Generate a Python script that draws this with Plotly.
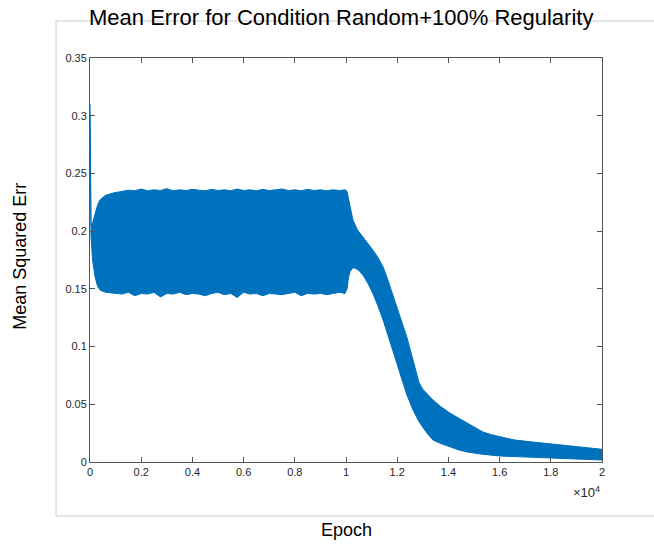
import plotly.graph_objects as go

# Upper envelope of the oscillating mean squared error
upper_epoch = [0, 40, 100, 200, 300, 390, 600, 900, 1250, 1500, 1750, 2000, 2250, 2500, 2750,
               3000, 3250, 3500, 3750, 4000, 4250, 4500, 4750, 5000, 5250, 5500, 5750, 6000,
               6250, 6500, 6750, 7000, 7250, 7500, 7750, 8000, 8250, 8500, 8750, 9000, 9250,
               9500, 9750, 9960,
               10040, 10100, 10180, 10270, 10450, 10660, 10850, 11050, 11250, 11450, 11600,
               11720, 11850, 11990, 12200, 12380, 12550, 12700, 12850, 13000, 13160, 13400,
               13700, 14060, 14400, 14730, 15000, 15350, 15700, 16020, 16600, 17300, 18000,
               18630, 19300, 20000]
upper_mse = [0.31, 0.205, 0.207, 0.216, 0.223, 0.227, 0.231, 0.233, 0.2345, 0.2355, 0.235,
             0.2365, 0.235, 0.2358, 0.2352, 0.2368, 0.235, 0.2358, 0.2352, 0.2362, 0.2355,
             0.235, 0.2362, 0.2352, 0.2358, 0.235, 0.2365, 0.2352, 0.2358, 0.235, 0.2362,
             0.2352, 0.2358, 0.2365, 0.2352, 0.2358, 0.235, 0.2362, 0.2352, 0.2358, 0.235,
             0.2358, 0.2352, 0.2358,
             0.2345, 0.228, 0.218, 0.2096, 0.201, 0.195, 0.190, 0.1836, 0.177, 0.169, 0.160,
             0.1516, 0.143, 0.134, 0.120, 0.108, 0.093, 0.080, 0.069, 0.063, 0.059, 0.0537,
             0.048, 0.0424, 0.038, 0.0338, 0.030, 0.026, 0.0235, 0.0217, 0.019, 0.0173,
             0.0155, 0.0139, 0.0125, 0.011]

# Lower envelope
lower_epoch = [0, 40, 100, 200, 300, 390, 600, 900, 1250, 1500, 1750, 2000, 2250, 2500, 2750,
               3000, 3250, 3500, 3750, 4000, 4250, 4500, 4750, 5000, 5250, 5500, 5750, 6000,
               6250, 6500, 6750, 7000, 7250, 7500, 7750, 8000, 8250, 8500, 8750, 9000, 9250,
               9500, 9750, 9960,
               10040, 10100, 10160, 10250, 10350, 10500, 10660, 10850, 11050, 11250, 11450,
               11600, 11720, 11900, 12110, 12250, 12380, 12500, 12620, 12800, 13000, 13200,
               13400, 13700, 14060, 14400, 14730, 15300, 16020, 17000, 17960, 19000, 20000]
lower_mse = [0.30, 0.195, 0.175, 0.16, 0.152, 0.149, 0.147, 0.146, 0.1455, 0.147, 0.144,
             0.146, 0.1455, 0.147, 0.143, 0.146, 0.1455, 0.147, 0.145, 0.146, 0.1455, 0.144,
             0.146, 0.147, 0.145, 0.146, 0.1425, 0.147, 0.1455, 0.146, 0.144, 0.146, 0.1455,
             0.145, 0.146, 0.147, 0.144, 0.146, 0.1455, 0.146, 0.145, 0.146, 0.147, 0.146,
             0.150, 0.160, 0.165, 0.168, 0.168, 0.166, 0.162, 0.155, 0.146, 0.135, 0.123,
             0.113, 0.103, 0.090, 0.077, 0.067, 0.058, 0.051, 0.045, 0.037, 0.030, 0.024,
             0.019, 0.016, 0.013, 0.0105, 0.0087, 0.0068, 0.0052, 0.0042, 0.0035, 0.0025,
             0.0017]

x_tickvals = [0, 2000, 4000, 6000, 8000, 10000, 12000, 14000, 16000, 18000, 20000]
x_ticktext = ["0", "0.2", "0.4", "0.6", "0.8", "1", "1.2", "1.4", "1.6", "1.8", "2"]
y_tickvals = [0, 0.05, 0.1, 0.15, 0.2, 0.25, 0.3, 0.35]
y_ticktext = ["0", "0.05", "0.1", "0.15", "0.2", "0.25", "0.3", "0.35"]

BLUE = "#0072BD"
AX = "#555555"
TXT = "#262626"
FONT = "Liberation Sans, Arial, Helvetica, sans-serif"

poly_x = upper_epoch + lower_epoch[::-1]
poly_y = upper_mse + lower_mse[::-1]

fig = go.Figure()
fig.add_trace(go.Scatter(x=poly_x, y=poly_y, mode="lines", fill="toself",
                         fillcolor=BLUE, line=dict(color=BLUE, width=1),
                         hoverinfo="skip", showlegend=False))

fig.update_layout(
    width=654, height=544,
    margin=dict(l=90, r=52, t=58, b=82),
    paper_bgcolor="white", plot_bgcolor="white",
    font=dict(family=FONT, color=TXT, size=11),
    showlegend=False,
    xaxis=dict(range=[0, 20000], tickvals=x_tickvals, ticktext=x_ticktext,
               showgrid=False, zeroline=False, showline=True, linecolor=AX, linewidth=1,
               mirror="ticks", ticks="inside", ticklen=5, tickcolor=AX,
               tickfont=dict(size=11, color=TXT, family=FONT)),
    yaxis=dict(range=[0, 0.35], tickvals=y_tickvals, ticktext=y_ticktext,
               showgrid=False, zeroline=False, showline=True, linecolor=AX, linewidth=1,
               mirror="ticks", ticks="inside", ticklen=5, tickcolor=AX,
               tickfont=dict(size=11, color=TXT, family=FONT)),
    shapes=[dict(type="path", xref="paper", yref="paper",
                 path="M 1.2,1.0916 L -0.0664,1.0916 L -0.0664,-0.1337 L 1.2,-0.1337",
                 line=dict(color="#cccccc", width=1), layer="below")],
    annotations=[
        dict(text="Mean Error for Condition Random+100% Regularity", xref="paper", yref="paper",
             x=0.49, y=1.10, xanchor="center", yanchor="middle", showarrow=False,
             font=dict(size=22, color="black", family=FONT)),
        dict(text="Mean Squared Err", xref="paper", yref="paper", x=-0.137, y=0.51,
             textangle=-90, xanchor="center", yanchor="middle", showarrow=False,
             font=dict(size=18, color="black", family=FONT)),
        dict(text="Epoch", xref="paper", yref="paper", x=0.5, y=-0.168,
             xanchor="center", yanchor="middle", showarrow=False,
             font=dict(size=18, color="black", family=FONT)),
        dict(text="×10<sup>4</sup>", xref="paper", yref="paper", x=1.0, y=-0.074,
             xanchor="right", yanchor="middle", showarrow=False,
             font=dict(size=13, color=TXT, family=FONT)),
    ],
)

fig.write_html("out.html")
